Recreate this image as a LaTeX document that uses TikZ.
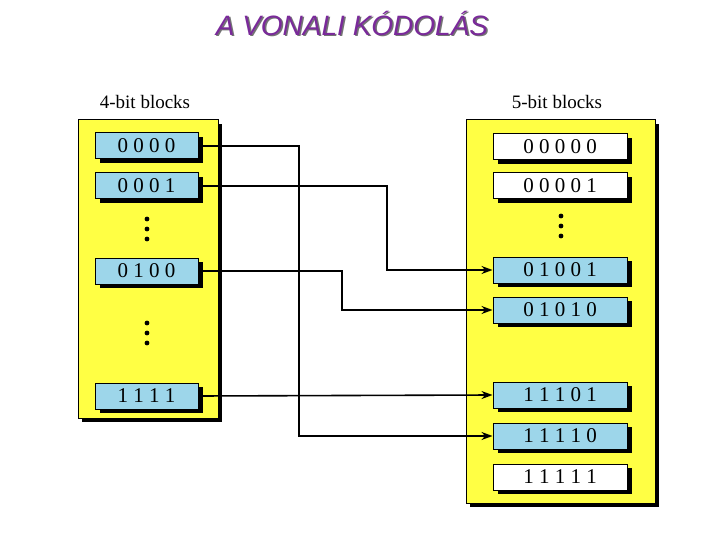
\documentclass[tikz,border=0pt]{standalone}
\usepackage{fontspec}
\setmainfont{Liberation Serif}
\newfontfamily\titlefont{Liberation Sans}
\usetikzlibrary{positioning,arrows.meta}
\definecolor{panelyellow}{HTML}{FFFF44}
\definecolor{blockblue}{HTML}{9DD6EA}
\definecolor{titlepurple}{HTML}{7A2A9A}
\tikzset{
  panel/.style={draw=black, fill=panelyellow, line width=1pt},
  block/.style={draw=black, fill=blockblue, line width=1pt, minimum height=26pt,
    inner sep=0pt, font=\fontsize{21}{21}\selectfont},
  wideblock/.style={block, minimum width=134pt},
  narrowblock/.style={block, minimum width=103pt},
  link/.style={line width=1.6pt, -{Stealth[length=11pt,width=8pt]}}
}
\begin{document}
\begin{tikzpicture}[x=1pt,y=-1pt]
    \useasboundingbox (0,0) rectangle (720,540);
    % Title
    \node[font=\titlefont\itshape\fontsize{28}{28}\selectfont, text=black!55] (titleshadow) at (353.5,24.5) {A VONALI KÓDOLÁS};
    \node[font=\titlefont\itshape\fontsize{28}{28}\selectfont, text=titlepurple] (title) at (352,23) {A VONALI KÓDOLÁS};

    % Panels with shadows
    \fill[black] (82,124) rectangle (222,422);
    \draw[panel] (78,120) rectangle (218,418);
    \fill[black] (470,124) rectangle (659,507);
    \draw[panel] (466,120) rectangle (655,503);
    \node[font=\fontsize{19}{19}\selectfont] (lefttitle) at (145,102) {4-bit blocks};
    \node[font=\fontsize{19}{19}\selectfont] (righttitle) at (557,102) {5-bit blocks};

    % Left blocks
    \foreach \name/\y/\txt in {a/146/0 0 0 0, b/186/0 0 0 1, c/271/0 1 0 0, d/396/1 1 1 1}{
        \fill[black] (100,\y-9) rectangle (203,\y+17);
        \node[narrowblock] (l\name) at (146.5,\y) {\txt};
    }
    % Right blocks
    \foreach \name/\y/\txt/\col in {a/147/0 0 0 0 0/white, b/186/0 0 0 0 1/white,
        c/270/0 1 0 0 1/blockblue, d/310/0 1 0 1 0/blockblue,
        e/395/1 1 1 0 1/blockblue, f/436/1 1 1 1 0/blockblue, g/477/1 1 1 1 1/white}{
        \fill[black] (498,\y-9) rectangle (632,\y+17);
        \node[wideblock, fill=\col] (r\name) at (560,\y) {\txt};
    }

    % Dots
    \foreach \y in {219,229,239,323,333,343}
        \fill (147,\y) circle (2.4);
    \foreach \y in {216,226,236}
        \fill (561,\y) circle (2.4);

    % Connectors
    \draw[link] (la.east) -| (299,436) -- (rf.west);
    \draw[link] (lb.east) -| (387,270) -- (rc.west);
    \draw[link] (lc.east) -| (342,310) -- (rd.west);
    \draw[link] (ld.east) -- (re.west);
\end{tikzpicture}
\end{document}
